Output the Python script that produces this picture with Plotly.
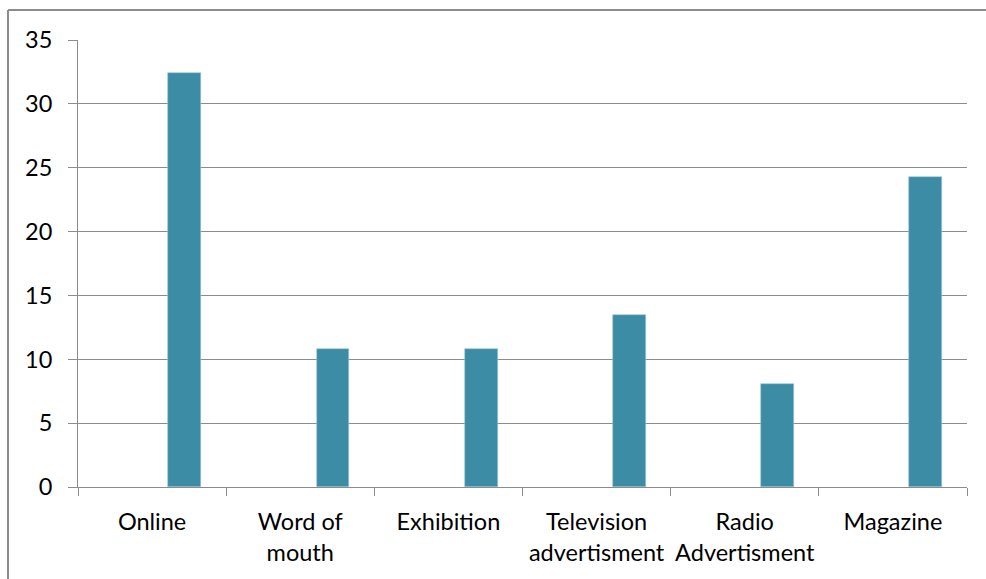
import plotly.graph_objects as go

categories = ["Online", "Word of<br>mouth", "Exhibition", "Television<br>advertisment",
              "Radio<br>Advertisment", "Magazine"]
values = [32.4, 10.8, 10.8, 13.5, 8.1, 24.3]
y_ticks = [0, 5, 10, 15, 20, 25, 30, 35]

W, H = 986, 579
L, R, T, B = 78, 19, 40, 92
pw, ph = W - L - R, H - T - B

fig = go.Figure()
fig.add_trace(go.Bar(
    x=categories, y=values,
    width=0.222, offset=0.11,
    marker=dict(color="#3D8CA5", line=dict(color="#9CC7D6", width=0.6)),
    showlegend=False,
))

font = dict(family="Lato, Open Sans, sans-serif", size=23.5, color="#000000")
fig.update_layout(
    width=W, height=H,
    margin=dict(l=L, r=R, t=T, b=B, autoexpand=False),
    paper_bgcolor="white", plot_bgcolor="white",
    font=font, bargap=0,
    xaxis=dict(
        type="category", tickson="boundaries", ticks="outside", ticklen=8,
        tickcolor="#8C8C8C", tickwidth=1, showgrid=False,
        showline=True, linecolor="#8C8C8C", linewidth=1,
        tickfont=font, ticklabelstandoff=14, tickangle=0, automargin=False,
        range=[-0.5, 5.5],
    ),
    yaxis=dict(
        range=[0, 35], tickvals=y_ticks, ticks="outside", ticklen=9,
        tickcolor="#8C8C8C", tickwidth=1, showgrid=True, gridcolor="#8C8C8C",
        gridwidth=1, showline=True, linecolor="#8C8C8C", linewidth=1,
        zeroline=False, tickfont=font, ticklabelstandoff=11, automargin=False,
    ),
)

# outer chart border (left and top edges visible)
bx0 = (8 - L) / pw
by1 = (H - B - 10) / ph
fig.add_shape(type="line", xref="paper", yref="paper", x0=bx0, x1=bx0,
              y0=by1, y1=-0.5, line=dict(color="#8C8C8C", width=2))
fig.add_shape(type="line", xref="paper", yref="paper", x0=bx0, x1=1.5,
              y0=by1, y1=by1, line=dict(color="#8C8C8C", width=2))

fig.write_html("out.html")
